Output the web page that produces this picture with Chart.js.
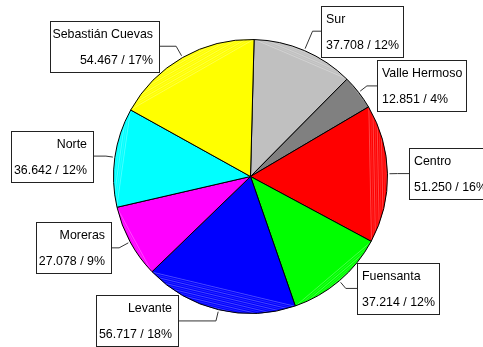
<!DOCTYPE html>
<html>
<head>
<meta charset="utf-8">
<script src="https://cdn.jsdelivr.net/npm/chart.js@4.4.1/dist/chart.umd.min.js"></script>
<style>
  html, body { margin: 0; padding: 0; background: #fff; }
  canvas { display: block; }
</style>
</head>
<body>
<canvas id="chart" width="483" height="347"></canvas>
<script>
// Población por distrito
const districts = ['Sur', 'Valle Hermoso', 'Centro', 'Fuensanta', 'Levante', 'Moreras', 'Norte', 'Sebastián Cuevas'];
const population = [37708, 12851, 51250, 37214, 56717, 27078, 36642, 54467];
const sliceColors = ['#C0C0C0', '#808080', '#FF0000', '#00FF00', '#0000FF', '#FF00FF', '#00FFFF', '#FFFF00'];

// Placement of each callout box: side of the pie, x of the box edge nearest the pie,
// and how far past the rim the leader line bends.
const calloutLayout = [
  { side: 'right', x: 321, reach: 21 },
  { side: 'right', x: 377, reach: 10.5 },
  { side: 'right', x: 409, reach: 10 },
  { side: 'right', x: 357, reach: 10 },
  { side: 'left',  x: 178, reach: 11.5 },
  { side: 'left',  x: 111, reach: 12.5 },
  { side: 'left',  x: 93,  reach: 9 },
  { side: 'left',  x: 159, reach: 13 }
];

const total = population.reduce((a, b) => a + b, 0);
const fmtThousands = v => String(v).replace(/\B(?=(\d{3})+(?!\d))/g, '.');

// Light streaks in the segment between each slice's chord and its rim.
const rimSheen = {
  id: 'rimSheen',
  afterDatasetsDraw(chart) {
    const ctx = chart.ctx;
    const meta = chart.getDatasetMeta(0);
    meta.data.forEach(arc => {
      const p = arc.getProps(['x', 'y', 'startAngle', 'endAngle', 'outerRadius'], true);
      const R = p.outerRadius - 0.8;
      const half = (p.endAngle - p.startAngle) / 2;
      const mid = p.startAngle + half;
      const nx = Math.cos(mid), ny = Math.sin(mid);
      const dx = -ny, dy = nx;
      const chordDist = R * Math.cos(half);
      const sag = R - chordDist;
      ctx.save();
      ctx.beginPath();
      ctx.arc(p.x, p.y, R, p.startAngle, p.endAngle);
      ctx.closePath();
      ctx.clip();
      ctx.lineWidth = 1;
      for (let k = 1; k < sag; k += 2) {
        const cx = p.x + nx * (chordDist + k);
        const cy = p.y + ny * (chordDist + k);
        ctx.strokeStyle = 'rgba(255,255,255,' + (k % 4 === 1 ? 0.28 : 0.14) + ')';
        ctx.beginPath();
        ctx.moveTo(cx - dx * 2 * R, cy - dy * 2 * R);
        ctx.lineTo(cx + dx * 2 * R, cy + dy * 2 * R);
        ctx.stroke();
      }
      ctx.restore();
    });
  }
};

const callouts = {
  id: 'callouts',
  afterDraw(chart) {
    const ctx = chart.ctx;
    const meta = chart.getDatasetMeta(0);
    ctx.save();
    ctx.font = '12.4px "Liberation Sans", Arial, sans-serif';
    meta.data.forEach((arc, i) => {
      const p = arc.getProps(['x', 'y', 'startAngle', 'endAngle', 'outerRadius'], true);
      const mid = (p.startAngle + p.endAngle) / 2;
      const c = Math.cos(mid), s = Math.sin(mid);
      const L = calloutLayout[i];
      const ex = p.x + c * (p.outerRadius + 2);
      const ey = p.y + s * (p.outerRadius + 2);
      const kx = p.x + c * (p.outerRadius + L.reach);
      const ky = p.y + s * (p.outerRadius + L.reach);

      const line1 = districts[i];
      const line2 = fmtThousands(population[i]) + ' / ' + Math.round(population[i] / total * 100) + '%';
      const w = Math.ceil(Math.max(ctx.measureText(line1).width, ctx.measureText(line2).width)) + 8;
      const h = 51;
      const boxLeft = L.side === 'right' ? L.x : L.x - w;
      const boxTop = Math.round(ky - h / 2);

      // leader line
      ctx.strokeStyle = '#333';
      ctx.lineWidth = 1;
      ctx.beginPath();
      ctx.moveTo(ex, ey);
      ctx.lineTo(kx, ky);
      ctx.lineTo(L.x, ky);
      ctx.stroke();

      // box
      ctx.fillStyle = '#fff';
      ctx.fillRect(boxLeft, boxTop, w, h);
      ctx.strokeStyle = '#222';
      ctx.strokeRect(boxLeft + 0.5, boxTop + 0.5, w, h);

      // text
      ctx.fillStyle = '#000';
      ctx.textBaseline = 'middle';
      if (L.side === 'right') {
        ctx.textAlign = 'left';
        ctx.fillText(line1, boxLeft + 5, boxTop + 14);
        ctx.fillText(line2, boxLeft + 5, boxTop + 40);
      } else {
        ctx.textAlign = 'right';
        ctx.fillText(line1, boxLeft + w - 6, boxTop + 14);
        ctx.fillText(line2, boxLeft + w - 6, boxTop + 40);
      }
    });
    ctx.restore();
  }
};

new Chart(document.getElementById('chart'), {
  type: 'pie',
  data: {
    labels: districts,
    datasets: [{
      data: population,
      backgroundColor: sliceColors,
      borderColor: '#000',
      borderWidth: 1
    }]
  },
  options: {
    responsive: false,
    animation: false,
    rotation: 1.5,
    layout: { padding: { left: 113, right: 95, top: 39, bottom: 33 } },
    plugins: {
      legend: { display: false },
      tooltip: { enabled: false }
    }
  },
  plugins: [rimSheen, callouts]
});
</script>
</body>
</html>
